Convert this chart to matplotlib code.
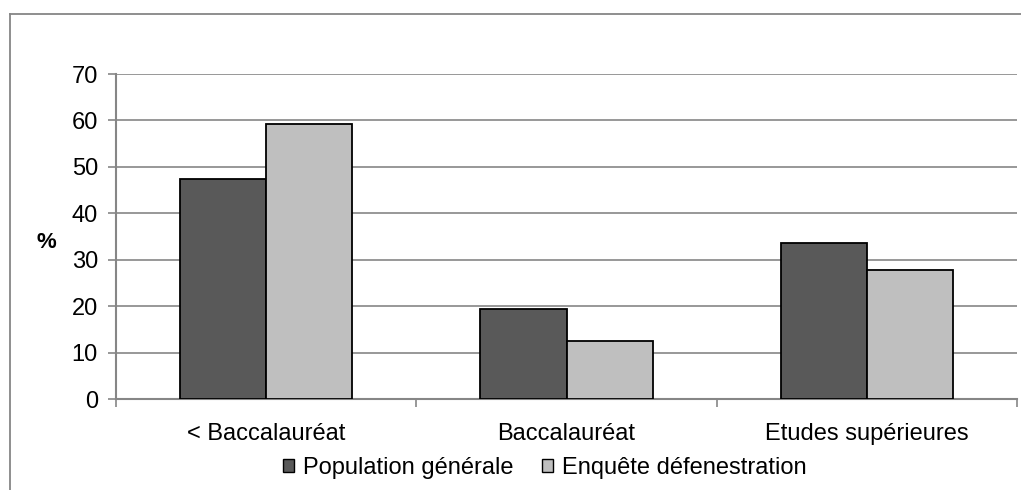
import numpy as np
import matplotlib.pyplot as plt
from matplotlib.lines import Line2D
from matplotlib.patches import Rectangle

plt.rcParams['font.family'] = ['Liberation Sans', 'DejaVu Sans']

categories = ['< Baccalauréat', 'Baccalauréat', 'Etudes supérieures']
population_generale = [47.3, 19.3, 33.5]
enquete_defenestration = [59.3, 12.4, 27.8]
series_names = ['Population générale', 'Enquête défenestration']
yticks = [0, 10, 20, 30, 40, 50, 60, 70]

W, H = 1021, 490
fs = 17
fig = plt.figure(figsize=(W / 100, H / 100), dpi=100)
ax = fig.add_axes([116 / W, 1 - 399 / H, (1017 - 116) / W, (399 - 74) / H])

x = np.arange(len(categories))
bw = 0.287
grid_c = '#868686'
dark, light = '#595959', '#BFBFBF'

ax.bar(x - bw / 2, population_generale, bw, color=dark, edgecolor='black',
       linewidth=1.3, zorder=3, label=series_names[0])
ax.bar(x + bw / 2, enquete_defenestration, bw, color=light, edgecolor='black',
       linewidth=1.3, zorder=3, label=series_names[1])

ax.set_xlim(-0.5, len(categories) - 0.5)
ax.set_ylim(0, 70)
ax.set_yticks(yticks)
ax.yaxis.grid(True, color=grid_c, linewidth=1.2, zorder=0)
ax.set_axisbelow(True)

ax.set_xticks(x)
ax.set_xticklabels(categories, fontsize=fs)
ax.set_xticks(np.arange(len(categories) + 1) - 0.5, minor=True)
ax.tick_params(axis='x', which='major', length=0, pad=17)
ax.tick_params(axis='x', which='minor', length=6, width=1.2, color=grid_c)
ax.tick_params(axis='y', length=6, width=1.2, color=grid_c, labelsize=fs, pad=7)

for s in ['top', 'right']:
    ax.spines[s].set_visible(False)
for s in ['left', 'bottom']:
    ax.spines[s].set_color(grid_c)
    ax.spines[s].set_linewidth(1.5)

ax.set_ylabel('%', rotation=0, fontsize=16, fontweight='bold', labelpad=18, va='center')
ax.yaxis.set_label_coords(-0.077, 0.483)

# legend below the category labels
handles = [Rectangle((0, 0), 1, 1, facecolor=dark, edgecolor='black', linewidth=1),
           Rectangle((0, 0), 1, 1, facecolor=light, edgecolor='black', linewidth=1)]
fig.legend(handles, series_names, loc='center', bbox_to_anchor=(545 / W, 1 - 468 / H),
           ncol=2, frameon=False, fontsize=fs, handlelength=0.45, handleheight=0.45,
           handletextpad=0.4, columnspacing=1.2)

# outer chart border
fig.add_artist(Line2D([10 / W, 10 / W], [0, 1 - 14 / H], color=grid_c, linewidth=1.3,
                      transform=fig.transFigure))
fig.add_artist(Line2D([10 / W, 1], [1 - 14 / H, 1 - 14 / H], color=grid_c, linewidth=1.3,
                      transform=fig.transFigure))

fig.savefig('out.png', dpi=100)
